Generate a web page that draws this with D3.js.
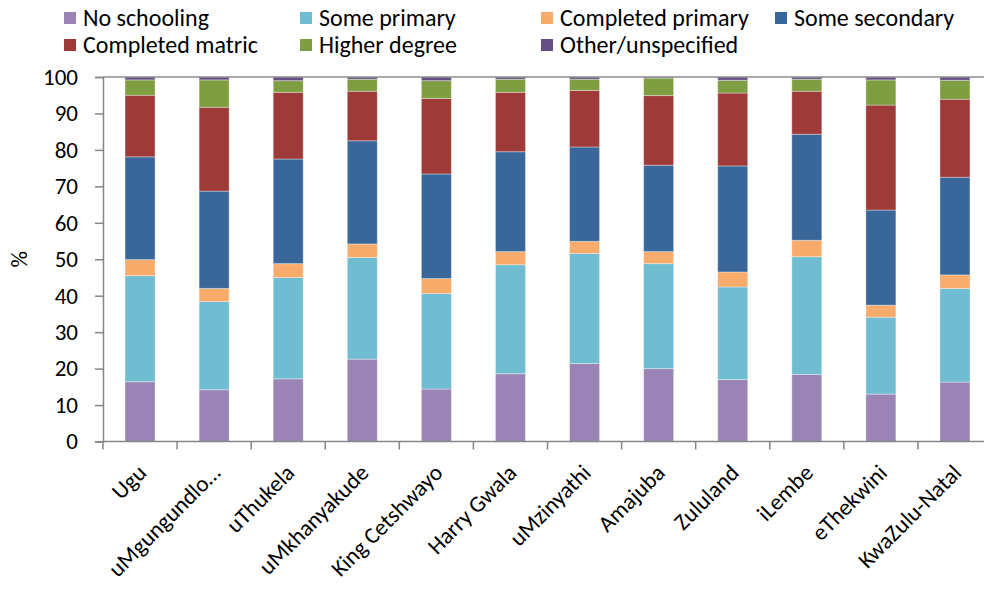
<!DOCTYPE html>
<meta charset="utf-8">
<html>
<head>
<script src="https://cdn.jsdelivr.net/npm/d3@7"></script>
<style>
  body { margin: 0; background: #fff; }
  text { font-family: Calibri, Carlito, Lato, "Liberation Sans", sans-serif; fill: #000; }
</style>
</head>
<body>
<div id="chart"></div>
<script>
  // districts along the x axis
  var districts = ["Ugu", "uMgungundlo\u2026", "uThukela", "uMkhanyakude", "King Cetshwayo",
    "Harry Gwala", "uMzinyathi", "Amajuba", "Zululand", "iLembe", "eThekwini", "KwaZulu-Natal"];

  // percentages per level of education
  var noSchooling      = [16.4, 14.2, 17.2, 22.6, 14.4, 18.6, 21.4, 20.0, 17.0, 18.4, 13.0, 16.3];
  var somePrimary      = [29.1, 24.2, 27.8, 27.9, 26.2, 29.9, 30.2, 28.8, 25.4, 32.3, 21.1, 25.7];
  var completedPrimary = [4.4, 3.6, 3.8, 3.7, 4.1, 3.6, 3.3, 3.3, 4.1, 4.5, 3.3, 3.7];
  var someSecondary    = [28.2, 26.7, 28.7, 28.3, 28.7, 27.4, 25.9, 23.7, 29.1, 29.1, 26.1, 26.8];
  var completedMatric  = [16.9, 23.0, 18.3, 13.6, 20.7, 16.3, 15.5, 19.1, 20.0, 11.8, 28.8, 21.4];
  var higherDegree     = [4.2, 7.5, 3.2, 3.3, 4.9, 3.6, 3.1, 4.8, 3.5, 3.3, 6.9, 5.2];
  var otherUnspecified = [0.8, 0.8, 1.0, 0.6, 1.0, 0.6, 0.6, 0.3, 0.9, 0.6, 0.8, 0.9];

  var seriesNames = ["No schooling", "Some primary", "Completed primary", "Some secondary",
    "Completed matric", "Higher degree", "Other/unspecified"];
  var seriesValues = [noSchooling, somePrimary, completedPrimary, someSecondary,
    completedMatric, higherDegree, otherUnspecified];
  var colors = ["#9a84b6", "#70bcd1", "#f9ab6b", "#3a679a", "#9e3a38", "#7f9d41", "#664f84"];
  var yTicks = [0, 10, 20, 30, 40, 50, 60, 70, 80, 90, 100];

  var W = 984, H = 589;
  var plotLeft = 103, plotRight = 992, plotTop = 77, plotBottom = 441.5;

  var svg = d3.select("#chart").append("svg")
      .attr("width", W).attr("height", H);

  // build rows for the stack
  var rows = districts.map(function (d, i) {
    var r = { district: d };
    seriesNames.forEach(function (s, j) { r[s] = seriesValues[j][i]; });
    return r;
  });
  var stacked = d3.stack().keys(seriesNames)(rows);

  var x = d3.scaleBand().domain(districts).range([plotLeft, plotRight]).padding(0);
  var y = d3.scaleLinear().domain([0, 100]).range([plotBottom, plotTop]);
  var barW = x.bandwidth() * 0.405;

  // bars
  svg.append("g").selectAll("g")
    .data(stacked)
    .enter().append("g")
      .attr("fill", function (d, i) { return colors[i]; })
    .selectAll("rect")
    .data(function (d) { return d; })
    .enter().append("rect")
      .attr("x", function (d) { return x(d.data.district) + (x.bandwidth() - barW) / 2; })
      .attr("y", function (d) { return y(d[1]); })
      .attr("width", barW)
      .attr("height", function (d) { return y(d[0]) - y(d[1]); })
      .attr("stroke", "#ffffff")
      .attr("stroke-opacity", 0.35)
      .attr("stroke-width", 1);

  // top border line at 100
  svg.append("line")
    .attr("x1", plotLeft).attr("x2", plotRight)
    .attr("y1", y(100)).attr("y2", y(100))
    .attr("stroke", "#8c8c8c").attr("stroke-width", 1.5);

  // y axis
  var yAxis = svg.append("g")
    .attr("transform", "translate(" + plotLeft + ",0)")
    .call(d3.axisLeft(y).tickValues(yTicks).tickSize(8).tickPadding(17));
  yAxis.select(".domain").attr("stroke", "#868686").attr("stroke-width", 1.5);
  yAxis.selectAll(".tick line").attr("stroke", "#868686").attr("stroke-width", 1.5);
  yAxis.selectAll(".tick text").style("font-size", "23px").attr("fill", "#000");

  // x axis line and ticks between categories
  svg.append("line")
    .attr("x1", plotLeft).attr("x2", plotRight)
    .attr("y1", plotBottom).attr("y2", plotBottom)
    .attr("stroke", "#868686").attr("stroke-width", 1.5);
  svg.append("g").selectAll("line")
    .data(districts.concat(["end"]))
    .enter().append("line")
      .attr("x1", function (d, i) { return plotLeft + i * x.step(); })
      .attr("x2", function (d, i) { return plotLeft + i * x.step(); })
      .attr("y1", plotBottom).attr("y2", plotBottom + 8)
      .attr("stroke", "#868686").attr("stroke-width", 1.5);

  // x labels, rotated
  svg.append("g").selectAll("text")
    .data(districts)
    .enter().append("text")
      .attr("transform", function (d) {
        return "translate(" + (x(d) + x.bandwidth() / 2 + 2) + "," + (plotBottom + 27) + ") rotate(-45)";
      })
      .attr("text-anchor", "end")
      .attr("dy", "0.35em")
      .style("font-size", "23px")
      .text(function (d) { return d; });

  // y axis title
  svg.append("text")
    .attr("transform", "translate(27," + ((plotTop + plotBottom) / 2) + ") rotate(-90)")
    .attr("text-anchor", "middle")
    .style("font-size", "23px")
    .text("%");

  // legend
  var legendPos = [[64, 18], [300, 18], [541, 18], [775, 18], [64, 45], [300, 45], [541, 45]];
  var legend = svg.append("g").selectAll("g")
    .data(seriesNames)
    .enter().append("g")
      .attr("transform", function (d, i) { return "translate(" + legendPos[i][0] + "," + legendPos[i][1] + ")"; });
  legend.append("rect")
    .attr("x", 0).attr("y", -6).attr("width", 12).attr("height", 12)
    .attr("fill", function (d, i) { return colors[i]; });
  legend.append("text")
    .attr("x", 19).attr("dy", "0.35em")
    .style("font-size", "24px")
    .text(function (d) { return d; });
</script>
</body>
</html>
